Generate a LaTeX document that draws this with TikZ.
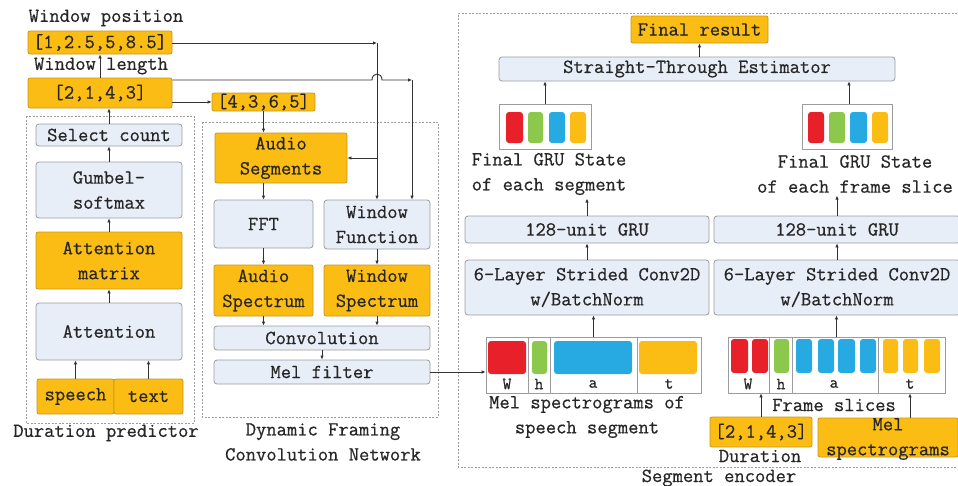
\documentclass[tikz,border=0pt]{standalone}
\usepackage{fontspec}
\setmonofont{Latin Modern Mono}[FakeBold=0.6]
\usetikzlibrary{arrows.meta,calc}
\definecolor{org}{HTML}{FBBC14}
\definecolor{orgd}{HTML}{C8981E}
\definecolor{lb}{HTML}{E7EEF8}
\definecolor{gb}{HTML}{9C9C9C}
\definecolor{rd}{HTML}{E8202A}
\definecolor{gr}{HTML}{8CC84B}
\definecolor{bl}{HTML}{27A9E1}
\definecolor{lncol}{HTML}{333333}
\newcommand\fs{\ttfamily\fontsize{20}{25}\selectfont}
\newcommand\fss{\ttfamily\fontsize{17}{18}\selectfont}
\newcommand\bx[7]{\node[#2, minimum width={(#5-#3)*1pt}, minimum height={(#6-#4)*1pt}] (#1) at ({(#3+#5)/2},{(#4+#6)/2}) {#7};}
\begin{document}
\begin{tikzpicture}[x=1pt,y=-1pt,
 base/.style={inner sep=0pt, align=center, font=\fs, text=black!85},
 obox/.style={base, draw=orgd, fill=org, rounded corners=2pt, line width=0.8pt},
 bbox/.style={base, draw=gb, fill=lb, rounded corners=3pt, line width=0.8pt},
 wbox/.style={base, draw=gb, line width=0.8pt},
 lbl/.style={base},
 cl/.style={base, font=\fss},
 arr/.style={draw=lncol, line width=0.9pt, -{Latex[length=4pt,width=3.5pt]}},
 plain/.style={draw=lncol, line width=0.9pt},
 dbox/.style={draw=gb, dash pattern=on 2pt off 1.5pt, line width=0.8pt},
]
\fill[white] (0,0) rectangle (958,485);
\useasboundingbox (0,0) rectangle (958,485);

% ---------- left ----------
\node[lbl] (lwpos) at (106,18) {Window position};
\bx{wpos}{obox}{28}{31}{172}{54}{[1,2.5,5,8.5]}
\node[lbl] (lwlen) at (101,66) {Window length};
\bx{wlen}{obox}{28}{78}{172}{108}{[2,1,4,3]}
\bx{seg}{obox}{212}{93}{315}{111}{[4,3,6,5]}

\draw[dbox] (26,116) rectangle (194,423);
\bx{selc}{bbox}{36}{124}{182}{146}{Select count}
\bx{gum}{bbox}{36}{162}{182}{218}{Gumbel-\\softmax}
\bx{attm}{obox}{36}{232}{182}{289}{Attention\\matrix}
\bx{att}{bbox}{36}{303}{182}{360}{Attention}
\bx{speech}{obox}{37}{379}{114}{414}{speech}
\bx{text}{obox}{114}{379}{183}{414}{text}
\node[lbl] (ldur) at (106,433) {Duration predictor};

\draw[arr] (speech.north) -- (speech.north |- att.south);
\draw[arr] (text.north) -- (text.north |- att.south);
\draw[arr] (att.north) -- (attm.south);
\draw[arr] (attm.north) -- (gum.south);
\draw[arr] (gum.north) -- (selc.south);
\draw[arr] (selc.north) -- (selc.north |- wlen.south);
\draw[arr] (wlen.north) -- (wlen.north |- wpos.south);
\draw[arr] (seg.west -| wlen.east) -- (seg.west);

% ---------- middle ----------
\draw[dbox] (202,122) rectangle (438,417);
\bx{aseg}{obox}{215}{133}{347}{183}{Audio\\Segments}
\bx{fft}{bbox}{214}{200}{313}{248}{FFT}
\bx{wfun}{bbox}{324}{200}{430}{249}{Window\\Function}
\bx{aspec}{obox}{214}{265}{313}{316}{Audio\\Spectrum}
\bx{wspec}{obox}{324}{265}{430}{316}{Window\\Spectrum}
\bx{conv}{bbox}{214}{326}{430}{350}{Convolution}
\bx{mel}{bbox}{214}{360}{430}{384}{Mel filter}
\node[lbl] (ldfc) at (323,442) {Dynamic Framing\\Convolution Network};

\draw[arr] (fft.north |- seg.south) -- (fft.north |- aseg.north);
\draw[arr] (fft.north |- aseg.south) -- (fft.north);
\draw[arr] (fft.south) -- (aspec.north);
\draw[arr] (wfun.south) -- (wspec.north);
\draw[arr] (aspec.south) -- (aspec.south |- conv.north);
\draw[arr] (wspec.south) -- (wspec.south |- conv.north);
\draw[arr] (conv.south) -- (mel.north);

\coordinate (k1) at (377,43);
\coordinate (k2) at (412,80);
\draw[arr] (wpos.east |- k1) -- (k1);
\draw[arr] (k1) -- (k1 |- wfun.north);
\draw[arr] (aseg.east -| k1) -- (aseg.east);
\draw[arr] (wlen.east |- k2) -- (372,80) .. controls (372,72) and (382,72) .. (382,80) -- (k2);
\draw[arr] (k2) -- (k2 |- wfun.north);

% ---------- right ----------
\draw[dbox] (964,13) -- (458,13) -- (458,467) -- (964,467);
\bx{final}{obox}{631}{16}{768}{43}{Final result}
\bx{ste}{bbox}{499}{57}{895}{81}{Straight-Through Estimator}
\bx{lst}{wbox}{499}{104}{591}{149}{}
\bx{rst}{wbox}{802}{104}{892}{149}{}
\fill[rd, rounded corners=3pt] (506,112) rectangle (523,143);
\fill[gr, rounded corners=3pt] (528,112) rectangle (543,143);
\fill[bl, rounded corners=3pt] (549,112) rectangle (565,143);
\fill[org, rounded corners=3pt] (570,112) rectangle (586,143);
\fill[rd, rounded corners=3pt] (808,112) rectangle (824,143);
\fill[gr, rounded corners=3pt] (829,112) rectangle (845,143);
\fill[bl, rounded corners=3pt] (850,112) rectangle (867,143);
\fill[org, rounded corners=3pt] (872,112) rectangle (888,143);
\node[lbl] (lstt) at (549,174) {Final GRU State\\of each segment};
\node[lbl] (rstt) at (855,174) {Final GRU State\\of each frame slice};
\bx{lgru}{bbox}{465}{216}{709}{243}{128-unit GRU}
\bx{rgru}{bbox}{714}{216}{960}{243}{128-unit GRU}
\bx{lconv}{bbox}{465}{260}{709}{315}{6-Layer Strided Conv2D\\w/BatchNorm}
\bx{rconv}{bbox}{714}{260}{960}{315}{6-Layer Strided Conv2D\\w/BatchNorm}

% mel spectrogram of speech segment
\bx{mseg}{wbox}{486}{337}{701}{393}{}
\foreach \x in {528,550,637} \draw[gb, line width=0.8pt] (\x,337) -- (\x,393);
\fill[rd, rounded corners=3pt] (488,341) rectangle (526,374);
\fill[gr, rounded corners=3pt] (532,341) rectangle (547,374);
\fill[bl, rounded corners=3pt] (554,341) rectangle (632,374);
\fill[org, rounded corners=3pt] (639,341) rectangle (697,374);
\node[cl] (mw) at (507,384) {W};
\node[cl] (mh) at (539,384) {h};
\node[cl] (ma) at (593,384) {a};
\node[cl] (mt) at (669,384) {t};
\node[lbl] (lmseg) at (587,417) {Mel spectrograms of\\speech segment};

% frame slices
\bx{frm}{wbox}{728}{337}{945}{393}{}
\foreach \x in {769,792,878} \draw[gb, line width=0.8pt] (\x,337) -- (\x,393);
\foreach \a/\b in {731/748,752/768} \fill[rd, rounded corners=3pt] (\a,339) rectangle (\b,373);
\fill[gr, rounded corners=3pt] (774,339) rectangle (789,373);
\foreach \a/\b in {796/812,818/834,838/855,860/876} \fill[bl, rounded corners=3pt] (\a,339) rectangle (\b,373);
\foreach \a/\b in {883/898,903/918,924/940} \fill[org, rounded corners=3pt] (\a,339) rectangle (\b,373);
\node[cl] (fw) at (748,384) {W};
\node[cl] (fh) at (781,384) {h};
\node[cl] (fa) at (834,384) {a};
\node[cl] (ft) at (910,384) {t};
\node[lbl] (lfrm) at (834,405) {Frame slices};

\bx{dur}{obox}{710}{417}{812}{447}{[2,1,4,3]}
\node[lbl] (ldur2) at (760,456) {Duration};
\bx{mspec}{obox}{818}{418}{958}{457}{}
\node[lbl] (lmspec) at (888,439) {Mel\\spectrograms};
\node[lbl, anchor=base] (lsenc) at (719,482) {Segment encoder};

\draw[arr] (final.south |- ste.north) -- (final.south);
\draw[arr] (lst.north) -- (lst.north |- ste.south);
\draw[arr] (rst.north) ++(2,0) coordinate (rtop) -- (rtop |- ste.south);
\draw[arr] (lgru.north) -- ++(0,-17);
\draw[arr] (rgru.north) -- ++(0,-20);
\draw[arr] (lconv.north) -- (lgru.south);
\draw[arr] (rconv.north) -- (rgru.south);
\draw[arr] (mseg.north) -- (mseg.north |- lconv.south);
\draw[arr] (frm.north) -- (frm.north |- rconv.south);
\draw[arr] (dur.north) -- (dur.north |- frm.south);
\draw[arr] ([xshift=22pt]mspec.north) -- ([xshift=22pt]mspec.north |- frm.south);
\draw[arr] (mel.east) -- (mel.east -| mseg.west);
\end{tikzpicture}
\end{document}
